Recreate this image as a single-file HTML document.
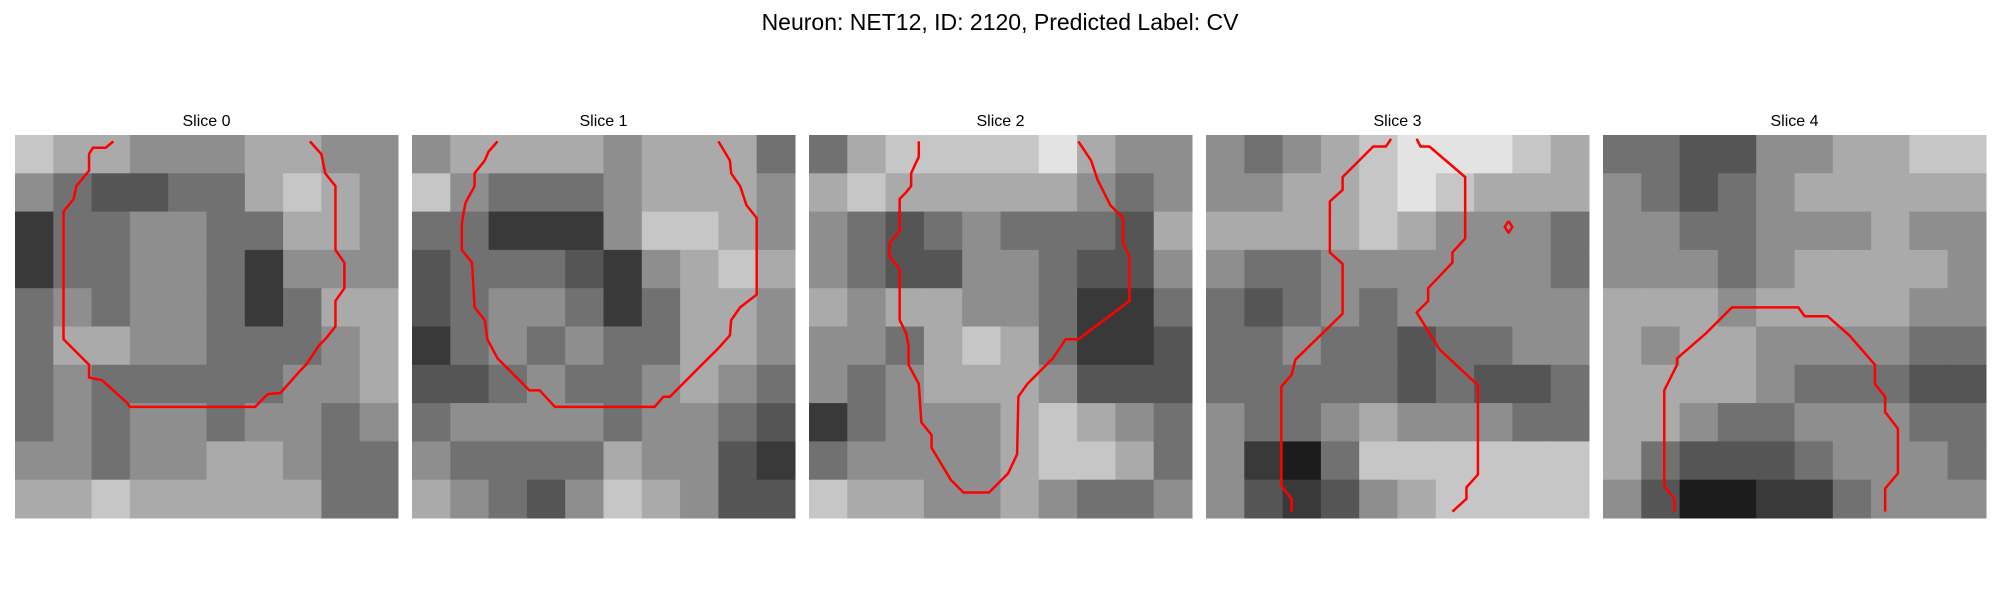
<!DOCTYPE html>
<html><head><meta charset="utf-8"><style>
html,body{margin:0;padding:0;background:#fff;}
svg{display:block;font-family:"Liberation Sans","DejaVu Sans",sans-serif;}
</style></head><body>
<svg id="fig" width="2000" height="600" viewBox="0 0 2000 600" xmlns="http://www.w3.org/2000/svg">
<text x="1000" y="30" text-anchor="middle" font-size="23" fill="#000">Neuron: NET12, ID: 2120, Predicted Label: CV</text>
<g id="panels"></g>
</svg>
<script>
const sliceTitles = ["Slice 0","Slice 1","Slice 2","Slice 3","Slice 4"];
const gridSlice0 = [
[7,6,6,5,5,5,6,6,5,5],[5,4,3,3,4,4,6,7,6,5],[2,4,4,5,5,4,4,6,6,5],[2,4,4,5,5,4,2,5,5,5],[4,5,4,5,5,4,2,4,6,6],
[4,6,6,5,5,4,4,4,5,6],[4,5,4,4,4,4,4,5,5,6],[4,5,4,5,5,4,5,5,4,5],[5,5,4,5,5,6,6,5,4,4],[6,6,7,6,6,6,6,6,4,4]];
const gridSlice1 = [
[5,6,6,6,6,5,6,6,6,4],[7,5,4,4,4,5,6,6,6,5],[4,4,2,2,2,5,7,7,6,5],[3,4,4,4,3,2,5,6,7,6],[3,4,5,5,4,2,4,6,6,5],
[2,4,5,4,5,4,4,6,6,5],[3,3,4,5,4,4,5,6,5,4],[4,5,5,5,5,4,5,5,4,3],[5,4,4,4,4,6,5,5,3,2],[6,5,4,3,5,7,6,5,3,3]];
const gridSlice2 = [
[4,6,7,7,7,7,8,6,5,5],[6,7,6,6,6,6,6,5,4,5],[5,4,3,4,5,4,4,4,3,6],[5,4,3,3,5,5,4,3,3,5],[6,5,6,6,5,5,4,2,2,4],
[5,5,4,6,7,6,4,2,2,3],[5,4,5,6,6,6,5,3,3,3],[2,4,5,5,5,6,7,6,5,4],[4,5,5,5,5,6,7,7,6,4],[7,6,6,5,5,6,5,4,4,5]];
const gridSlice3 = [
[5,4,5,6,7,8,8,8,7,6],[5,5,6,6,7,8,7,6,6,6],[6,6,6,6,7,6,5,5,5,4],[5,4,4,5,5,5,5,5,5,4],[4,3,4,5,4,5,5,5,5,5],
[4,4,5,4,4,3,4,4,5,5],[4,4,4,4,4,3,4,3,3,4],[5,4,4,5,6,5,5,5,4,4],[5,2,1,4,7,7,7,7,7,7],[5,3,2,3,5,6,7,7,7,7]];
const gridSlice4 = [
[4,4,3,3,5,5,6,6,7,7],[5,4,3,4,5,6,6,6,6,6],[5,5,4,4,5,5,5,6,5,5],[5,5,5,4,5,6,6,6,6,5],[6,6,6,5,6,6,6,6,5,5],
[6,5,6,6,5,5,5,5,4,4],[6,6,6,6,5,4,4,4,3,3],[6,6,5,4,4,5,5,5,4,4],[6,4,3,3,3,4,5,5,5,4],[5,3,1,1,2,2,4,5,5,5]];
const grids = [gridSlice0,gridSlice1,gridSlice2,gridSlice3,gridSlice4];

const contour0 = [[[7.7,0.5],[7.1,1],[6.1,1],[5.8,1.5],[5.8,2.8],[4.8,4],[4.6,5],[3.8,6],[3.8,16],[4.8,17],[5.8,18],[5.8,19],[6.8,19.2],[8.8,21],[9,21.3],[18.8,21.3],[19.8,20.3],[20.8,20.2],[22.3,18.5],[22.8,18],[23.8,16.5],[24.3,16],[25.1,15],[25.1,13],[25.8,12],[25.8,10],[25.1,9],[25.1,4],[24.3,3],[24,1.5],[23.1,0.5]]];
const contour1 = [[[6.7,0.5],[6,1.3],[5.7,2],[4.9,3],[4.9,4],[4.2,5.3],[4,6.3],[3.9,7],[3.9,9],[4.7,10],[4.9,13.5],[5.7,14.5],[5.9,16],[6.7,17.5],[8.2,19],[9.2,20],[10,20],[11.2,21.3],[19,21.3],[19.7,20.5],[20.2,20.5],[22.7,18],[24,16.7],[24.9,15.7],[25,14.5],[25.7,13.5],[27,12.5],[27,6.5],[26.2,5.5],[25.7,4],[25,3],[24.9,2],[24,0.5]]];
const contour2 = [[[8.6,0.5],[8.6,1.7],[8,3],[8,4],[7.6,4.5],[7.1,5],[7.1,7.5],[6.3,8.5],[6.3,9.5],[7.1,10.5],[7.1,14.5],[7.6,15.5],[7.8,16.5],[7.8,18],[8.6,19.5],[8.8,22.5],[9.6,23.5],[9.6,24.5],[11.1,27],[12.1,28],[14.1,28],[15.1,27],[15.6,26.5],[16.3,25],[16.4,20.5],[17.1,19.5],[19.1,17.5],[20.1,16],[21.1,16],[25.1,13],[25.1,9.5],[24.6,8.5],[24.6,6.5],[23.6,5.5],[22.6,3.5],[22.1,2],[21.1,0.5]]];
const contour3 = [
[[14.5,0.3],[14.1,0.9],[13.1,0.9],[10.7,3.3],[10.7,4.3],[9.7,5.2],[9.7,9.2],[10.7,10.1],[10.7,14],[7,17.6],[6.7,18.8],[5.9,19.7],[5.9,27.5],[6.7,28.5],[6.7,29.5]],
[[16.5,0.3],[16.8,0.9],[17.5,0.9],[20.3,3.3],[20.3,8.1],[19.3,9.2],[19.3,10],[17.4,12],[17.4,13],[16.5,13.9],[18.3,16.8],[21.3,19.6],[21.3,26.6],[20.4,27.6],[20.4,28.5],[19.3,29.5]],
[[23.7,6.75],[24.0,7.2],[23.7,7.65],[23.4,7.2],[23.7,6.75]]];
const contour4 = [[[5.6,29.5],[5.6,28.5],[4.8,27.5],[4.8,20],[5.8,18],[5.8,17.5],[8.1,15.5],[10.1,13.5],[15.3,13.5],[15.8,14.2],[17.6,14.2],[19.3,15.7],[21.3,18],[21.3,19.5],[22.1,20.5],[22.1,21.7],[23.1,23],[23.1,26.5],[22.1,27.7],[22.1,29.5]]];
const contours = [contour0,contour1,contour2,contour3,contour4];

const NS = "http://www.w3.org/2000/svg";
const root = document.getElementById('panels');
const PX0 = 15, PSTEP = 397, PY = 135, PW = 383, NCELL = 30;
function xScale(p, c){ return PX0 + p*PSTEP + c*PW/NCELL; }
function yScale(c){ return PY + c*PW/NCELL; }
function gray(v){ const g = Math.round(v/9*255); return `rgb(${g},${g},${g})`; }

grids.forEach((grid, p) => {
  const g = document.createElementNS(NS,'g');
  
  
  root.appendChild(g);
  const t = document.createElementNS(NS,'text');
  t.setAttribute('x', xScale(p, 15)); t.setAttribute('y', 126);
  t.setAttribute('text-anchor','middle'); t.setAttribute('font-size','16');
  t.textContent = sliceTitles[p];
  
  
  g.appendChild(t);
  const n = grid.length, k = NCELL / n;
  grid.forEach((row, r) => row.forEach((v, c) => {
    const rc = document.createElementNS(NS,'rect');
    const x0 = xScale(p, c*k), x1 = xScale(p, (c+1)*k);
    const y0 = yScale(r*k), y1 = yScale((r+1)*k);
    rc.setAttribute('x', x0); rc.setAttribute('y', y0);
    rc.setAttribute('width', x1-x0+0.5); rc.setAttribute('height', y1-y0+0.5);
    rc.setAttribute('fill', gray(v));
    
    
    g.appendChild(rc);
  }));
  contours[p].forEach(line => {
    const pl = document.createElementNS(NS,'polyline');
    pl.setAttribute('points', line.map(pt => xScale(p, pt[0]) + ',' + yScale(pt[1])).join(' '));
    pl.setAttribute('fill','none'); pl.setAttribute('stroke','#ff0000');
    pl.setAttribute('stroke-width','2.5'); pl.setAttribute('stroke-linejoin','round');
    
    
    g.appendChild(pl);
  });
});
</script>
</body></html>
